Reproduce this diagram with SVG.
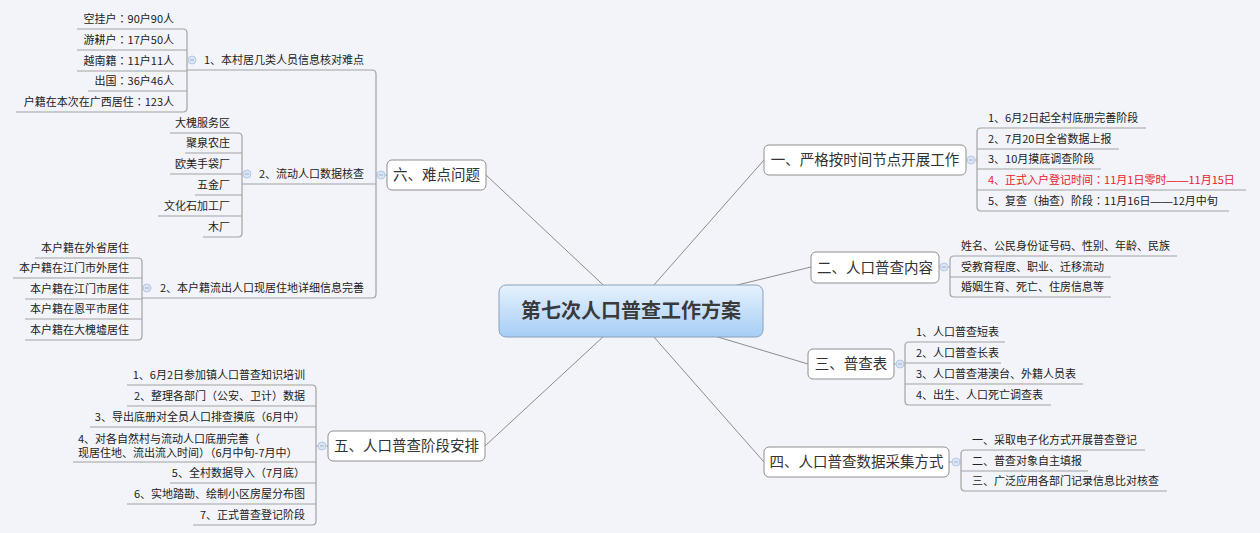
<svg xmlns="http://www.w3.org/2000/svg" width="1260" height="533" viewBox="0 0 1260 533">
<defs>
<linearGradient id="cg" x1="0" y1="0" x2="0" y2="1">
<stop offset="0" stop-color="#e6f2fd"/>
<stop offset="1" stop-color="#a6cdf6"/>
</linearGradient>
<style>
text{font-family:"Noto Sans CJK SC","Liberation Sans",sans-serif;}
.p{font-family:"Noto Sans CJK TC","Noto Sans CJK SC",sans-serif;}
.d{font-family:"Liberation Sans","Noto Sans CJK SC",sans-serif;}
.conn{stroke:#8c8c8c;stroke-width:1;fill:none;}
.br{stroke:#a2a2a2;stroke-width:1.2;fill:none;}
.tb{fill:#ffffff;stroke:#8f8f8f;stroke-width:1;}
.tt{font-size:14.5px;fill:#333333;text-anchor:middle;}
.st{font-size:11px;fill:#222222;}
.e{text-anchor:end;}
.red{fill:#e8202a;}
.cc{fill:#dbe5f4;stroke:#b6c9e5;stroke-width:1;}
.cm{stroke:#9fb3d1;stroke-width:1;}
</style>
</defs>
<rect width="1260" height="533" fill="#f3f4f9"/>

<g id="connectors">
<path class="conn" d="M631,311 L764,160 M631,311 L811,267 M631,311 L808,364 M631,311 L764,462 M631,311 L486,175 M631,311 L485,446"/>
<path class="br" d="M966,160 H977 M1146,128 H981 Q977,128 977,132 V207 Q977,211 981,211 H1229 M977,149 H1119 M977,169 H1101 M977,190 H1246"/>
<path class="br" d="M939,267 H950 M1177,256 H954 Q950,256 950,260 V293 Q950,297 954,297 H1111 M950,277 H1111"/>
<path class="br" d="M894,364 H905 M1005,342 H909 Q905,342 905,346 V401 Q905,405 909,405 H1051 M905,363 H1001 M905,384 H1083"/>
<path class="br" d="M949,462 H961 M1145,450 H965 Q961,450 961,454 V487 Q961,491 965,491 H1167 M961,471 H1088"/>
<path class="br" d="M387,175 H376 M187,70 H372 Q376,70 376,74 V294 Q376,298 372,298 H142 M242,184 H376"/>
<path class="br" d="M77,29 H183 Q187,29 187,33 V108 Q187,112 183,112 H16 M77,50 H187 M77,71 H187 M88,91 H187"/>
<path class="br" d="M170,133 H238 Q242,133 242,137 V233 Q242,237 238,237 H203 M185,153 H242 M170,174 H242 M195,195 H242 M158,216 H242"/>
<path class="br" d="M35,258 H138 Q142,258 142,262 V336 Q142,340 138,340 H25 M13,278 H142 M25,299 H142 M25,319 H142"/>
<path class="br" d="M328,446 H316 M127,385 H312 Q316,385 316,389 V521 Q316,525 312,525 H193 M127,406 H316 M90,427 H316 M73,462 H316 M170,483 H316 M127,504 H316"/>
</g>

<g id="central">
<rect x="499" y="285" width="264" height="52" rx="7" fill="url(#cg)" stroke="#8aa0bb" stroke-width="1"/>
<text x="631" y="318" text-anchor="middle" style="font-size:20px;font-weight:bold;fill:#3a3a3a">第七次人口普查工作方案</text>
</g>

<g id="t1">
<rect class="tb" x="764" y="145" width="202" height="30" rx="5"/>
<text class="tt" x="865" y="165">一、严格按时间节点开展工作</text>
<circle class="cc" cx="971" cy="160" r="4"/><path class="cm" d="M969,160 H973"/>
</g>
<g id="t1-children">
<text class="st" x="988" y="122">1、6月2日起全村底册完善阶段</text>
<text class="st" x="988" y="143">2、7月20日全省数据上报</text>
<text class="st" x="988" y="163">3、10月摸底调查阶段</text>
<text class="st red" x="988" y="184">4、正式入户登记时间<tspan class="p">：</tspan>11月1日零时<tspan class="d">——</tspan>11月15日</text>
<text class="st" x="988" y="205">5、复查<tspan class="p">（</tspan>抽查<tspan class="p">）</tspan>阶段<tspan class="p">：</tspan>11月16日<tspan class="d">——</tspan>12月中旬</text>
</g>

<g id="t2">
<rect class="tb" x="811" y="252" width="128" height="31" rx="5"/>
<text class="tt" x="875" y="272.5">二、人口普查内容</text>
<circle class="cc" cx="944" cy="267" r="4"/><path class="cm" d="M942,267 H946"/>
</g>
<g id="t2-children">
<text class="st" x="961" y="250">姓名、公民身份证号码、性别、年龄、民族</text>
<text class="st" x="961" y="271">受教育程度、职业、迁移流动</text>
<text class="st" x="961" y="291">婚姻生育、死亡、住房信息等</text>
</g>

<g id="t3">
<rect class="tb" x="808" y="349" width="86" height="30" rx="5"/>
<text class="tt" x="851" y="369">三、普查表</text>
<circle class="cc" cx="900" cy="364" r="4"/><path class="cm" d="M898,364 H902"/>
</g>
<g id="t3-children">
<text class="st" x="916" y="336">1、人口普查短表</text>
<text class="st" x="916" y="357">2、人口普查长表</text>
<text class="st" x="916" y="378">3、人口普查港澳台、外籍人员表</text>
<text class="st" x="916" y="399">4、出生、人口死亡调查表</text>
</g>

<g id="t4">
<rect class="tb" x="764" y="447" width="185" height="30" rx="5"/>
<text class="tt" x="856.5" y="467">四、人口普查数据采集方式</text>
<circle class="cc" cx="956" cy="462" r="4"/><path class="cm" d="M954,462 H958"/>
</g>
<g id="t4-children">
<text class="st" x="972" y="444">一、采取电子化方式开展普查登记</text>
<text class="st" x="972" y="465">二、普查对象自主填报</text>
<text class="st" x="972" y="485">三、广泛应用各部门记录信息比对核查</text>
</g>

<g id="t6">
<rect class="tb" x="387" y="160" width="99" height="30" rx="5"/>
<text class="tt" x="436.5" y="180">六、难点问题</text>
<circle class="cc" cx="381" cy="175" r="4"/><path class="cm" d="M379,175 H383"/>
</g>
<g id="t6-c1">
<text class="st e" x="364" y="64">1、本村居几类人员信息核对难点</text>
<circle class="cc" cx="192" cy="60" r="4"/><path class="cm" d="M190,60 H194"/>
</g>
<g id="t6-c1-children">
<text class="st e" x="174" y="23">空挂户<tspan class="p">：</tspan>90户90人</text>
<text class="st e" x="174" y="44">游耕户<tspan class="p">：</tspan>17户50人</text>
<text class="st e" x="174" y="65">越南籍<tspan class="p">：</tspan>11户11人</text>
<text class="st e" x="174" y="85">出国<tspan class="p">：</tspan>36户46人</text>
<text class="st e" x="174" y="106">户籍在本次在广西居住<tspan class="p">：</tspan>123人</text>
</g>
<g id="t6-c2">
<text class="st e" x="364" y="178">2、流动人口数据核查</text>
<circle class="cc" cx="247" cy="174" r="4"/><path class="cm" d="M245,174 H249"/>
</g>
<g id="t6-c2-children">
<text class="st e" x="230" y="127">大槐服务区</text>
<text class="st e" x="230" y="147">聚泉农庄</text>
<text class="st e" x="230" y="168">欧美手袋厂</text>
<text class="st e" x="230" y="189">五金厂</text>
<text class="st e" x="230" y="210">文化石加工厂</text>
<text class="st e" x="230" y="231">木厂</text>
</g>
<g id="t6-c3">
<text class="st e" x="364" y="292">2、本户籍流出人口现居住地详细信息完善</text>
<circle class="cc" cx="147" cy="288" r="4"/><path class="cm" d="M145,288 H149"/>
</g>
<g id="t6-c3-children">
<text class="st e" x="129" y="252">本户籍在外省居住</text>
<text class="st e" x="129" y="272">本户籍在江门市外居住</text>
<text class="st e" x="129" y="293">本户籍在江门市居住</text>
<text class="st e" x="129" y="313">本户籍在恩平市居住</text>
<text class="st e" x="129" y="334">本户籍在大槐墟居住</text>
</g>

<g id="t5">
<rect class="tb" x="328" y="431" width="157" height="30" rx="5"/>
<text class="tt" x="406.5" y="451">五、人口普查阶段安排</text>
<circle class="cc" cx="322" cy="446" r="4"/><path class="cm" d="M320,446 H324"/>
</g>
<g id="t5-children">
<text class="st e" x="305" y="379">1、6月2日参加镇人口普查知识培训</text>
<text class="st e" x="305" y="400">2、整理各部门<tspan class="p">（</tspan>公安、卫计<tspan class="p">）</tspan>数据</text>
<text class="st e" x="305" y="421">3、导出底册对全员人口排查摸底<tspan class="p">（</tspan>6月中<tspan class="p">）</tspan></text>
<text class="st" x="78" y="443">4、对各自然村与流动人口底册完善<tspan class="p">（</tspan></text>
<text class="st" x="78" y="457">现居住地、流出流入时间<tspan class="p">）（</tspan>6月中旬-7月中<tspan class="p">）</tspan></text>
<text class="st e" x="305" y="477">5、全村数据导入<tspan class="p">（</tspan>7月底<tspan class="p">）</tspan></text>
<text class="st e" x="305" y="498">6、实地踏勘、绘制小区房屋分布图</text>
<text class="st e" x="305" y="519">7、正式普查登记阶段</text>
</g>
</svg>
